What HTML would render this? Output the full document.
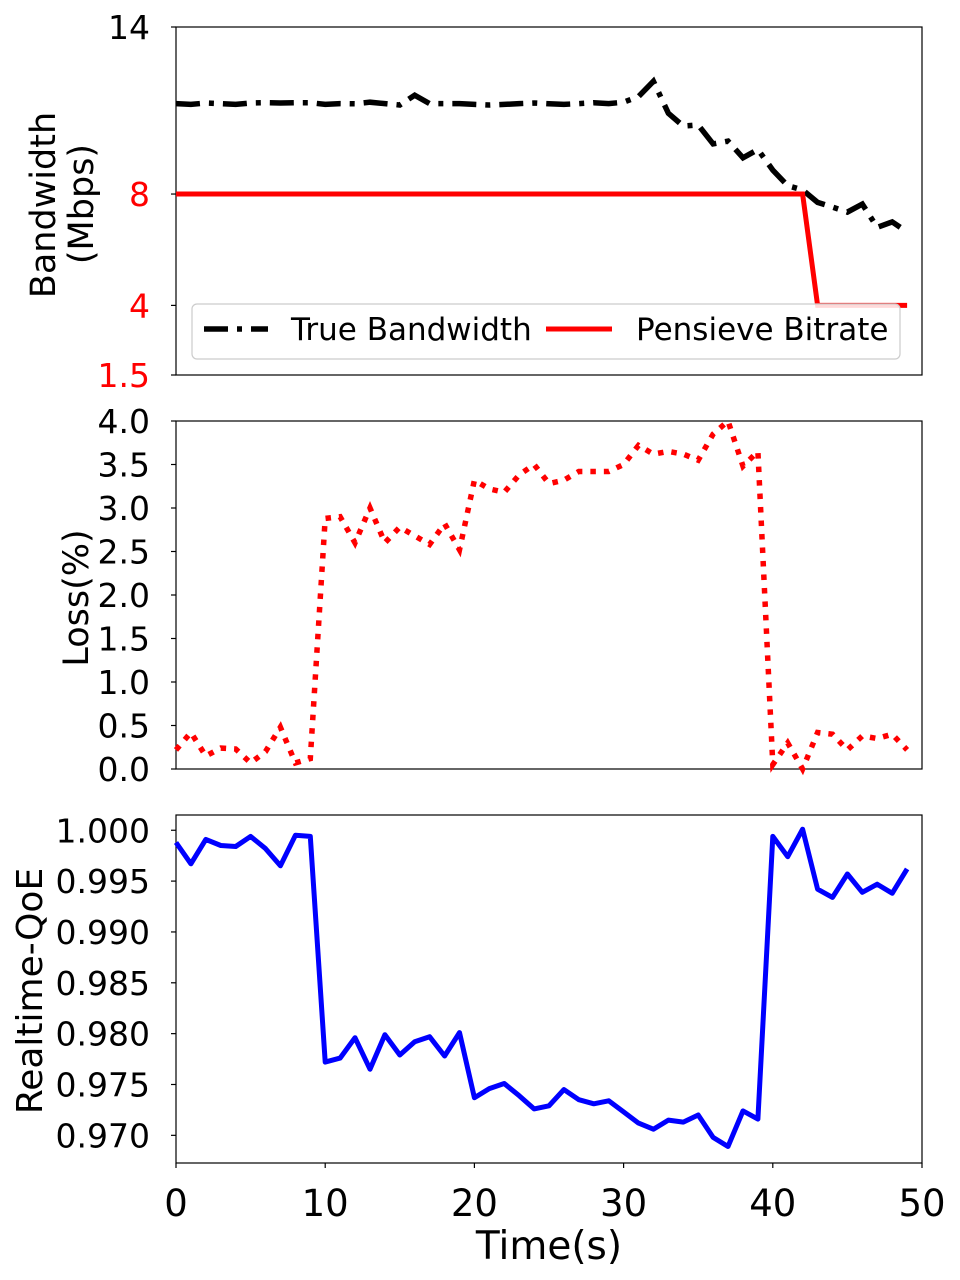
<!DOCTYPE html>
<html><head><meta charset="utf-8"><style>
html,body{margin:0;padding:0;background:#fff}
svg{display:block;font-family:"DejaVu Sans","Liberation Sans",sans-serif}
</style></head><body>
<svg id="chart" width="960" height="1280" viewBox="0 0 960 1280"></svg>
<script>
const timeS = Array.from({length:50},(_,i)=>i);
const bandwidth = [11.25,11.22,11.27,11.25,11.22,11.27,11.28,11.27,11.28,11.28,11.22,11.25,11.24,11.3,11.25,11.2,11.55,11.25,11.25,11.25,11.22,11.2,11.22,11.25,11.27,11.24,11.22,11.25,11.28,11.25,11.3,11.5,12.05,10.9,10.44,10.48,9.8,9.9,9.3,9.6,8.86,8.3,8.15,7.7,7.53,7.35,7.64,6.8,7.0,6.64];
const bitrate = [8,8,8,8,8,8,8,8,8,8,8,8,8,8,8,8,8,8,8,8,8,8,8,8,8,8,8,8,8,8,8,8,8,8,8,8,8,8,8,8,8,8,8,4,4,4,4,4,4,4];
const loss = [0.22,0.42,0.15,0.24,0.23,0.07,0.2,0.48,0.07,0.12,2.88,2.9,2.6,3.0,2.6,2.78,2.68,2.58,2.82,2.52,3.32,3.22,3.18,3.38,3.5,3.28,3.32,3.42,3.42,3.42,3.5,3.72,3.62,3.65,3.62,3.55,3.85,4.0,3.48,3.65,0.05,0.3,0.0,0.42,0.4,0.22,0.38,0.35,0.4,0.22];
const qoe = [0.9988,0.9967,0.9991,0.9985,0.9984,0.9994,0.9982,0.9965,0.9995,0.9994,0.9772,0.9776,0.9796,0.9765,0.9799,0.9779,0.9792,0.9797,0.9778,0.9801,0.9737,0.9746,0.9751,0.9739,0.9726,0.9729,0.9745,0.9735,0.9731,0.9734,0.9723,0.9712,0.9706,0.9715,0.9713,0.9720,0.9698,0.9689,0.9724,0.9716,0.9994,0.9974,1.0001,0.9942,0.9934,0.9957,0.9939,0.9947,0.9938,0.9962];
const xTicks = [0,10,20,30,40,50];
const bwTicks = [14,8,4,1.5];
const lossTicks = [0,0.5,1,1.5,2,2.5,3,3.5,4];
const qoeTicks = [0.970,0.975,0.980,0.985,0.990,0.995,1.000];

const NS="http://www.w3.org/2000/svg";
const svg=document.getElementById('chart');
function mk(tag,attrs,parent){const e=document.createElementNS(NS,tag);for(const k in attrs)e.setAttribute(k,attrs[k]);(parent||svg).appendChild(e);return e;}
const X0=176,X1=922;
const xs=v=>X0+(v-0)/(50-0)*(X1-X0);
const p1={t:27,b:375,min:1.5,max:14};
const p2={t:421,b:769,min:0,max:4};
const p3={t:815,b:1163,min:0.96728,max:1.0015};
const ys=(p,v)=>p.b-(v-p.min)/(p.max-p.min)*(p.b-p.t);

function frame(p,name){
  const r=mk('rect',{x:X0,y:p.t,width:X1-X0,height:p.b-p.t,fill:'none',stroke:'#000','stroke-width':1.2});
  
  
}
function yTick(p,v,label,color,name){
  const y=ys(p,v);
  mk('line',{x1:X0-5,x2:X0,y1:y,y2:y,stroke:'#000','stroke-width':1.2});
  const t=mk('text',{x:X0-26,y:y+12,'text-anchor':'end','font-size':33,fill:color});
  t.textContent=label;
  
  
}
function line(p,data,attrs,name){
  const d=data.map((v,i)=>(i?'L':'M')+xs(timeS[i]).toFixed(1)+' '+ys(p,v).toFixed(1)).join(' ');
  const e=mk('path',Object.assign({d,fill:'none'},attrs));
  
  
}

// Panel 1
frame(p1,'bandwidth-axes');
bwTicks.forEach(v=>yTick(p1,v,String(v),v===14?'#000':'#f00','bandwidth-y-tick'));
line(p1,bandwidth,{stroke:'#000','stroke-width':5.5,'stroke-dasharray':'24 9 5 9'},'true-bandwidth-line');
line(p1,bitrate,{stroke:'#f00','stroke-width':5});


const lg=mk('g',{});


mk('rect',{x:192,y:304,width:708,height:55,rx:5,fill:'#fff','fill-opacity':0.85,stroke:'#ccc','stroke-width':1.2},lg);
mk('path',{d:'M204 329 L268 329',stroke:'#000','stroke-width':5.5,'stroke-dasharray':'24 9 5 9'},lg);
const lt1=mk('text',{x:291,y:340,'font-size':31},lg);lt1.textContent='True Bandwidth';


mk('path',{d:'M546 329 L612 329',stroke:'#f00','stroke-width':5},lg);
const lt2=mk('text',{x:636,y:340,'font-size':31},lg);lt2.textContent='Pensieve Bitrate';


const yl1=mk('text',{transform:'translate(55,205) rotate(-90)','text-anchor':'middle','font-size':35});
yl1.textContent='Bandwidth';


const yl1b=mk('text',{transform:'translate(93,204) rotate(-90)','text-anchor':'middle','font-size':35});
yl1b.textContent='(Mbps)';



// Panel 2
frame(p2,'loss-axes');
lossTicks.forEach(v=>yTick(p2,v,v.toFixed(1),'#000','loss-y-tick'));
line(p2,loss,{stroke:'#f00','stroke-width':5.5,'stroke-dasharray':'5.5 8'},'loss-line');
const yl2=mk('text',{transform:'translate(88,598) rotate(-90)','text-anchor':'middle','font-size':35});
yl2.textContent='Loss(%)';



// Panel 3
frame(p3,'qoe-axes');
qoeTicks.forEach(v=>yTick(p3,v,v.toFixed(3),'#000','qoe-y-tick'));
line(p3,qoe,{stroke:'#00f','stroke-width':5,'stroke-linejoin':'round'},'qoe-line');
const yl3=mk('text',{transform:'translate(42,991) rotate(-90)','text-anchor':'middle','font-size':36});
yl3.textContent='Realtime-QoE';


xTicks.forEach(v=>{
  const x=xs(v);
  mk('line',{x1:x,x2:x,y1:p3.b,y2:p3.b+5,stroke:'#000','stroke-width':1.2});
  const t=mk('text',{x:x,y:1216,'text-anchor':'middle','font-size':37});
  t.textContent=String(v);
  
  
});
const xl=mk('text',{x:549,y:1259,'text-anchor':'middle','font-size':39});
xl.textContent='Time(s)';


</script>
</body></html>
